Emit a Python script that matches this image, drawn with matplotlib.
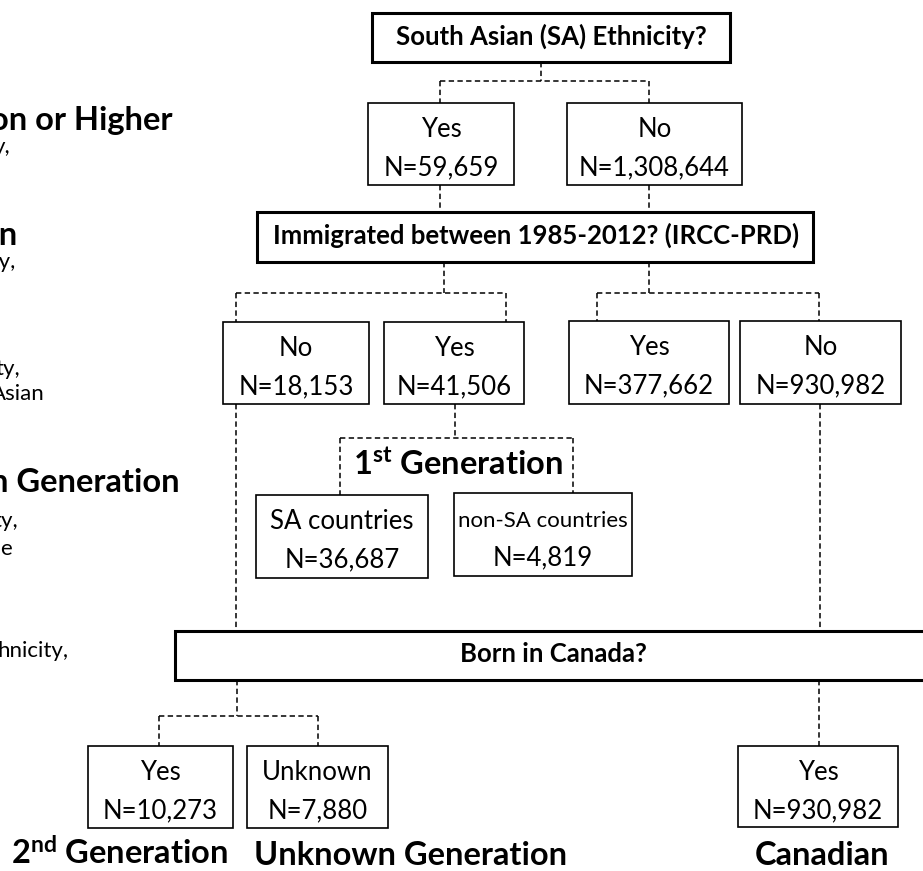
import matplotlib
matplotlib.use("Agg")
import matplotlib.pyplot as plt
from matplotlib.patches import Rectangle

# fonts
plt.rcParams['font.family'] = ['Lato', 'DejaVu Sans']
plt.rcParams['mathtext.fontset'] = 'custom'
plt.rcParams['mathtext.rm'] = 'Lato'
plt.rcParams['mathtext.bf'] = 'Lato:bold'

# data
questions = ["South Asian (SA) Ethnicity?",
             "Immigrated between 1985-2012? (IRCC-PRD)",
             "Born in Canada?"]
answers = ["Yes", "No", "No", "Yes", "Yes", "No",
           "SA countries", "non-SA countries", "Yes", "Unknown", "Yes"]
counts = [59659, 1308644, 18153, 41506, 377662, 930982,
          36687, 4819, 10273, 7880, 930982]
groups = [r"$\mathbf{1^{st}}$ Generation", r"$\mathbf{2^{nd}}$ Generation",
          "Unknown Generation", "Canadian"]
# text of the neighbouring panel, cut by the left edge
side_big = ["on or Higher", "on", "n Generation"]
side_small = ["y,", "cy,", "ty,", "Asian", "ty,", "e", "hnicity,"]

# layout in pixels (x0, y0, x1, y1)
q_boxes = [(372, 13, 730, 62), (257, 212, 813, 262), (175, 631, 930, 680)]
q_text = [(551, 45), (536, 244), (553, 662)]
a_boxes = [(368, 103, 514, 185), (567, 103, 742, 185),
           (223, 322, 369, 404), (384, 322, 524, 404),
           (569, 321, 729, 404), (740, 321, 901, 404),
           (256, 495, 428, 578), (454, 493, 632, 576),
           (88, 746, 233, 828), (247, 746, 388, 828),
           (738, 746, 898, 827)]
g_text = [(458, 475), (120, 865), (411, 865), (822, 865)]
side_big_pos = [(172, 130), (18, 245), (180, 492)]
side_small_pos = [(10, 153), (15, 268), (20, 375), (45, 400), (18, 527), (12, 555), (68, 657)]

links = [
    [(541, 62), (541, 81)], [(440, 81), (649, 81)], [(440, 81), (440, 103)], [(649, 81), (649, 103)],
    [(440, 185), (440, 212)], [(649, 185), (649, 212)],
    [(444, 262), (444, 293)], [(236, 293), (506, 293)], [(236, 293), (236, 322)], [(506, 293), (506, 322)],
    [(649, 262), (649, 293)], [(597, 293), (819, 293)], [(597, 293), (597, 321)], [(819, 293), (819, 321)],
    [(455, 404), (455, 438)], [(340, 438), (573, 438)], [(340, 438), (340, 495)], [(573, 438), (573, 493)],
    [(236, 404), (236, 631)], [(820, 404), (820, 631)],
    [(237, 680), (237, 716)], [(159, 716), (318, 716)], [(159, 716), (159, 746)], [(318, 716), (318, 746)],
    [(819, 680), (819, 746)],
]

W, H = 923, 871
fig = plt.figure(figsize=(W / 100, H / 100), dpi=100)
ax = fig.add_axes([0, 0, 1, 1])
ax.set_xlim(0, W)
ax.set_ylim(H, 0)
ax.axis('off')
renderer = fig.canvas.get_renderer()

# dashed connectors
for (x0, y0), (x1, y1) in links:
    ax.plot([x0, x1], [y0, y1], color='black', lw=1.1, ls=(0, (3.5, 2.2)))

# question boxes
for (x0, y0, x1, y1), txt, (tx, ty) in zip(q_boxes, questions, q_text):
    ax.add_patch(Rectangle((x0, y0), x1 - x0, y1 - y0, fill=True, fc='white',
                           ec='black', lw=2.2, zorder=3))
    ax.text(tx, ty, txt, ha='center', va='baseline', fontsize=18.5,
            fontweight='bold', zorder=4)

# answer boxes
for (x0, y0, x1, y1), lab, n in zip(a_boxes, answers, counts):
    ax.add_patch(Rectangle((x0, y0), x1 - x0, y1 - y0, fill=True, fc='white',
                           ec='black', lw=1.2, zorder=3))
    cx = (x0 + x1) / 2
    for dy, s in [(34, lab), (72, f"N={n:,}")]:
        t = ax.text(cx, y0 + dy, s, ha='center', va='baseline', fontsize=18.5, zorder=4)
        # shrink text that would spill out of the box
        w = t.get_window_extent(renderer).width
        room = (x1 - x0) - 8
        if w > room:
            t.set_fontsize(18.5 * room / w)

# generation labels
for txt, (tx, ty) in zip(groups, g_text):
    ax.text(tx, ty, txt, ha='center', va='baseline', fontsize=23.5,
            fontweight='bold', zorder=4)

for txt, (tx, ty) in zip(side_big, side_big_pos):
    ax.text(tx, ty, txt, ha='right', va='baseline', fontsize=23.5, fontweight='bold')
for txt, (tx, ty) in zip(side_small, side_small_pos):
    ax.text(tx, ty, txt, ha='right', va='baseline', fontsize=16)

fig.savefig("out.png", dpi=100, facecolor='white')
